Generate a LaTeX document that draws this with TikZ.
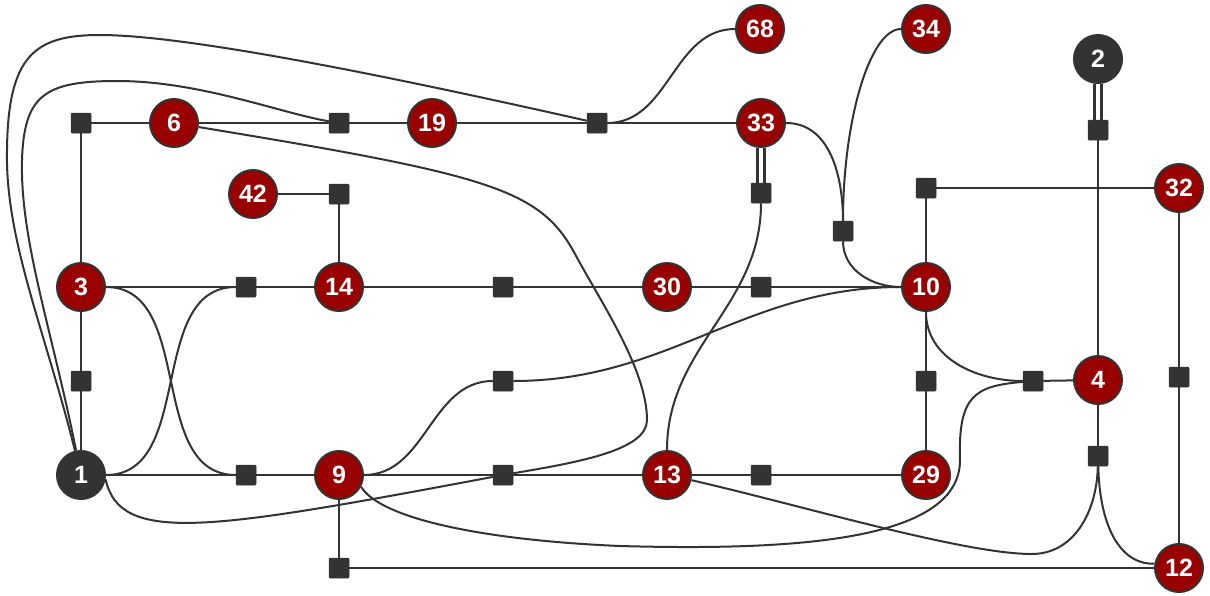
\documentclass[tikz,border=0pt]{standalone}
\usepackage{fontspec}
\setmainfont{Liberation Sans}
\usetikzlibrary{backgrounds}
\definecolor{nodered}{HTML}{990000}
\definecolor{ink}{HTML}{333333}
\tikzset{
  bus/.style={circle, fill=nodered, draw=ink, line width=2pt, minimum size=48pt, inner sep=0pt, text=white, font=\fontsize{25}{25}\selectfont\bfseries},
  slack/.style={bus, fill=ink},
  sq/.style={rectangle, fill=ink, draw=ink, line width=0.5pt, minimum size=20pt, inner sep=0pt, rounded corners=1pt},
  ln/.style={draw=ink, line width=2pt},
  dbl/.style={draw=ink, line width=2.5pt, double=white, double distance=4.5pt},
}
\begin{document}
\begin{tikzpicture}[x=1pt,y=-1pt]
\useasboundingbox (0,0) rectangle (1210,595);
% buses
\node[slack] (n1) at (81,475) {1};
\node[slack] (n2) at (1098,59) {2};
\node[bus] (n3) at (81,287) {3};
\node[bus] (n6) at (174,123) {6};
\node[bus] (n19) at (432,123) {19};
\node[bus] (n33) at (761,123) {33};
\node[bus] (n68) at (760,29) {68};
\node[bus] (n34) at (926,29) {34};
\node[bus] (n42) at (253,194) {42};
\node[bus] (n14) at (339,287) {14};
\node[bus] (n30) at (667,287) {30};
\node[bus] (n10) at (926,287) {10};
\node[bus] (n32) at (1179,188) {32};
\node[bus] (n4) at (1098,380) {4};
\node[bus] (n9) at (339,475) {9};
\node[bus] (n13) at (667,475) {13};
\node[bus] (n29) at (926,475) {29};
\node[bus] (n12) at (1179,568) {12};
% squares
\node[sq] (s1) at (81,123) {};
\node[sq] (s2) at (339,123) {};
\node[sq] (s3) at (597,123) {};
\node[sq] (s4) at (339,194) {};
\node[sq] (s5) at (761,193) {};
\node[sq] (s6) at (843,231) {};
\node[sq] (s7) at (926,188) {};
\node[sq] (s8) at (1098,130) {};
\node[sq] (s9) at (246,287) {};
\node[sq] (s10) at (503,287) {};
\node[sq] (s11) at (761,287) {};
\node[sq] (s12) at (81,381) {};
\node[sq] (s13) at (503,381) {};
\node[sq] (s14) at (926,381) {};
\node[sq] (s15) at (1033,381) {};
\node[sq] (s16) at (1179,377) {};
\node[sq] (s17) at (246,475) {};
\node[sq] (s18) at (503,475) {};
\node[sq] (s19) at (761,475) {};
\node[sq] (s20) at (1098,456) {};
\node[sq] (s21) at (339,568) {};
\begin{pgfonlayer}{background}
% straight lines
\draw[ln] (s1) -- (n6);
\draw[ln] (s1) -- (n3);
\draw[ln] (n6) -- (s2);
\draw[ln] (s2) -- (n19);
\draw[ln] (n19) -- (s3);
\draw[ln] (s3) -- (n33);
\draw[ln] (n42) -- (s4);
\draw[ln] (s4) -- (n14);
\draw[ln] (n3) -- (s9);
\draw[ln] (s9) -- (n14);
\draw[ln] (n14) -- (s10);
\draw[ln] (s10) -- (n30);
\draw[ln] (n30) -- (s11);
\draw[ln] (s11) -- (n10);
\draw[ln] (n3) -- (s12);
\draw[ln] (s12) -- (n1);
\draw[ln] (n1) -- (s17);
\draw[ln] (s17) -- (n9);
\draw[ln] (n9) -- (s18);
\draw[ln] (s18) -- (n13);
\draw[ln] (n13) -- (s19);
\draw[ln] (s19) -- (n29);
\draw[ln] (n9) -- (s21);
\draw[ln] (s21) -- (n12);
\draw[ln] (s7) -- (n10);
\draw[ln] (s7) -- (n32);
\draw[ln] (s8) -- (n4);
\draw[ln] (n32) -- (s16);
\draw[ln] (s16) -- (n12);
\draw[ln] (n10) -- (s14);
\draw[ln] (s14) -- (n29);
\draw[ln] (s15) -- (n4);
\draw[ln] (n4) -- (s20);
\draw[dbl] (n33) -- (s5);
\draw[dbl] (n2) -- (s8);
% curves
\draw[ln] (n1) .. controls (45,330) and (5,240) .. (7,150) .. controls (8,55) and (35,35) .. (100,35) .. controls (200,35) and (450,90) .. (s3);
\draw[ln] (n1) .. controls (52,330) and (20,240) .. (22,160) .. controls (24,95) and (45,81) .. (117,81) .. controls (200,81) and (280,113) .. (s2);
\draw[ln] (n1.east) to[out=0,in=180] (s9.west);
\draw[ln] (n3.east) to[out=0,in=180] (s17.west);
\draw[ln] (n1.-10) .. controls (120,545) and (210,530) .. (s18);
\draw[ln] (n6) .. controls (490,175) and (540,189) .. (575,254) .. controls (602,304) and (647,370) .. (647,420) .. controls (647,450) and (580,462) .. (s18);
\draw[ln] (n9.east) to[out=0,in=180] (s13.west);
\draw[ln] (s13.east) to[out=0,in=180] (n10.west);
\draw[ln] (n9.-28) .. controls (380,518) and (480,540) .. (620,546) .. controls (800,551) and (960,540) .. (960,460) .. controls (958,395) and (975,386) .. (s15);
\draw[ln] (n13.-12) .. controls (800,505) and (960,553) .. (1030,554) .. controls (1075,555) and (1097,510) .. (s20);
\draw[ln] (s20) .. controls (1100,535) and (1125,565) .. (n12.170);
\draw[ln] (n10.south) to[out=-90,in=180] (s15.west);
\draw[ln] (n33.east) to[out=0,in=90] (s6.north);
\draw[ln] (n34.west) .. controls (870,29) and (843,120) .. (s6.north);
\draw[ln] (s6.south) to[out=-90,in=180] (n10.west);
\draw[ln] (s3.east) to[out=0,in=180] (n68.west);
\draw[ln] (s5.south) to[out=-90,in=90] (n13.north);
\end{pgfonlayer}
\end{tikzpicture}
\end{document}
